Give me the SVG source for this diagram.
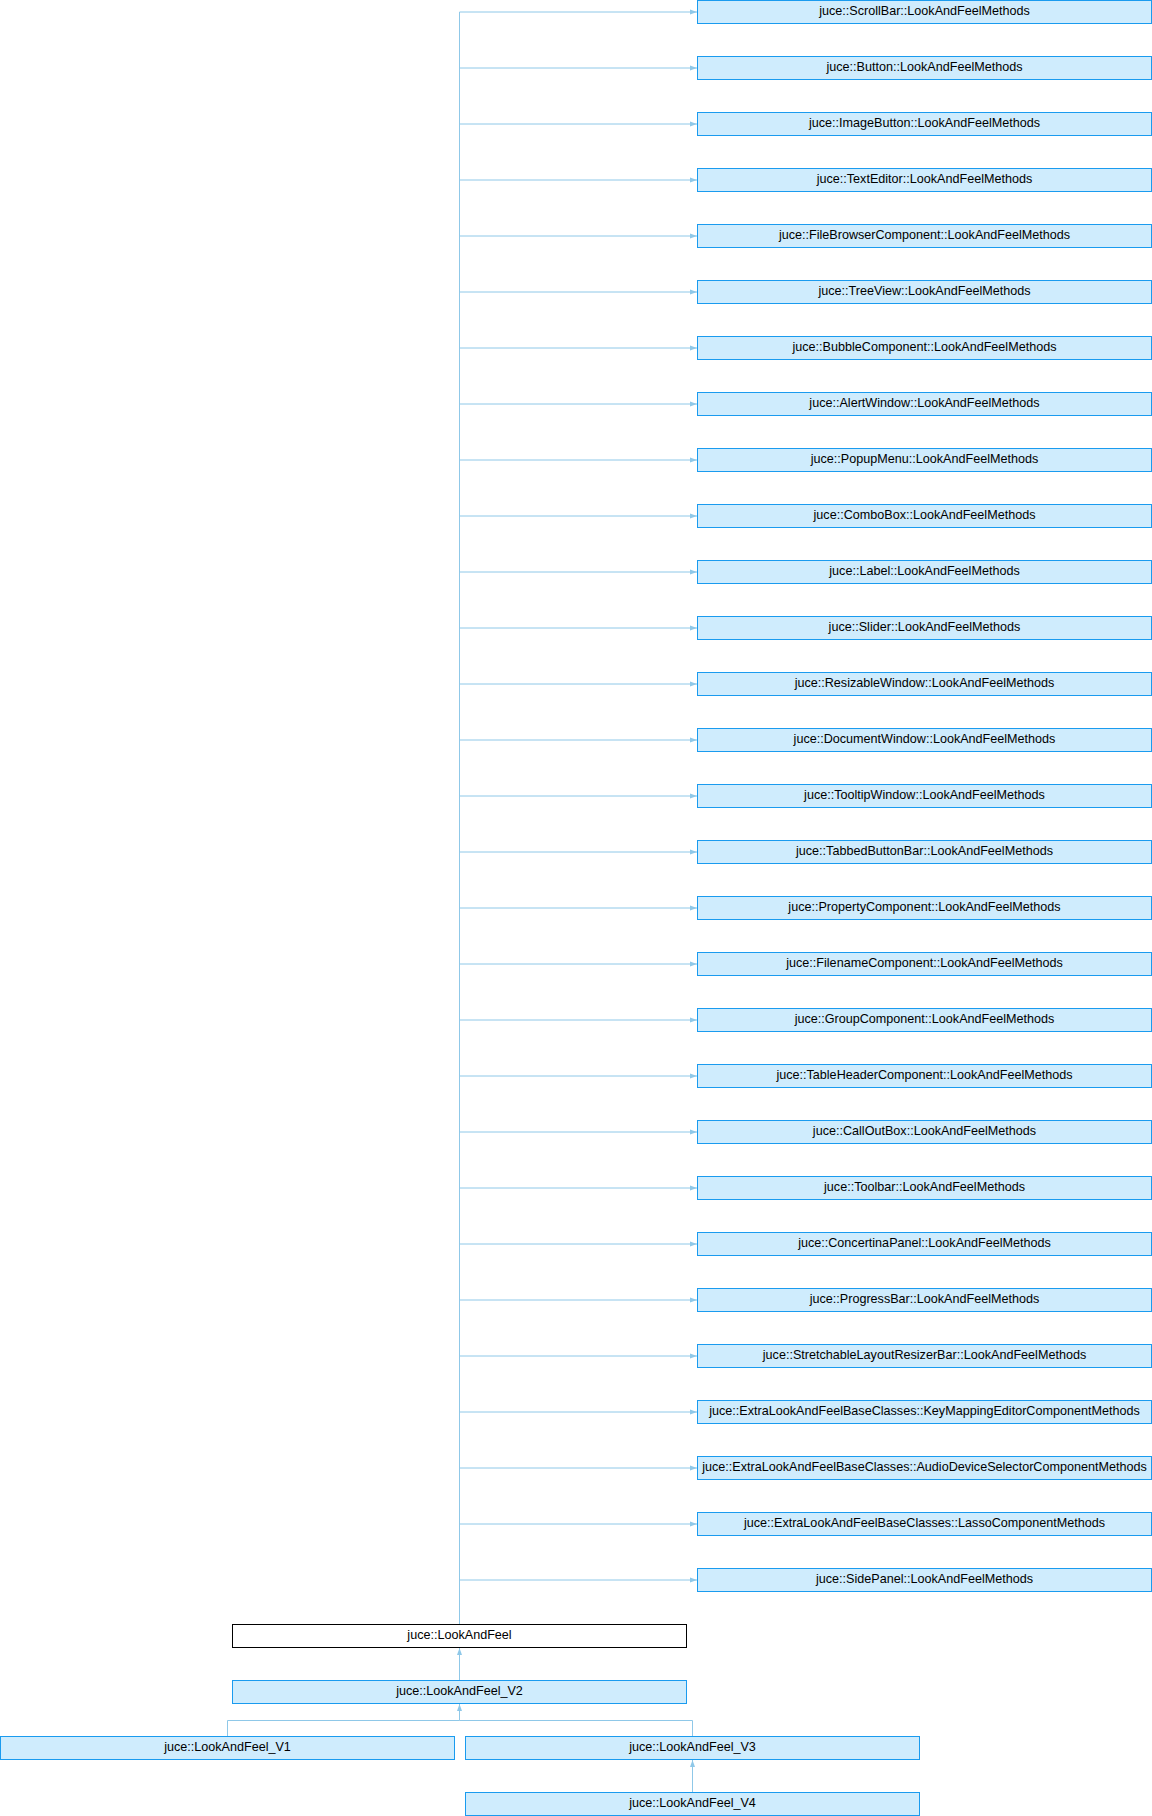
<svg xmlns="http://www.w3.org/2000/svg" width="1152" height="1816" viewBox="0 0 1152 1816">
<style>
.n rect{fill:#cfecfd;stroke:#1a9bef;stroke-width:1}
.n.cur rect{fill:#ffffff;stroke:#000000}
.n text{font-family:"Liberation Sans",Arial,sans-serif;font-size:12.6px;fill:#000;text-anchor:middle}
.e path{fill:none;stroke:#8fc8e8;stroke-width:1;marker-end:url(#ah)}
.e path.t{marker-end:none}
</style>
<defs>
<marker id="ah" markerUnits="userSpaceOnUse" markerWidth="8" markerHeight="8" refX="7" refY="4" orient="auto">
<path d="M0,1.5 L7,4 L0,6.5 Z" fill="#8fc8e8" stroke="none"/>
</marker>
</defs>
<g class="e" id="connectors">
<path class="t" d="M459.5,1624 V12"/>
<path d="M459.5,12 H697"/>
<path d="M459.5,68 H697"/>
<path d="M459.5,124 H697"/>
<path d="M459.5,180 H697"/>
<path d="M459.5,236 H697"/>
<path d="M459.5,292 H697"/>
<path d="M459.5,348 H697"/>
<path d="M459.5,404 H697"/>
<path d="M459.5,460 H697"/>
<path d="M459.5,516 H697"/>
<path d="M459.5,572 H697"/>
<path d="M459.5,628 H697"/>
<path d="M459.5,684 H697"/>
<path d="M459.5,740 H697"/>
<path d="M459.5,796 H697"/>
<path d="M459.5,852 H697"/>
<path d="M459.5,908 H697"/>
<path d="M459.5,964 H697"/>
<path d="M459.5,1020 H697"/>
<path d="M459.5,1076 H697"/>
<path d="M459.5,1132 H697"/>
<path d="M459.5,1188 H697"/>
<path d="M459.5,1244 H697"/>
<path d="M459.5,1300 H697"/>
<path d="M459.5,1356 H697"/>
<path d="M459.5,1412 H697"/>
<path d="M459.5,1468 H697"/>
<path d="M459.5,1524 H697"/>
<path d="M459.5,1580 H697"/>
<path d="M459.5,1680.5 V1648"/>
<path class="t" d="M227.5,1736.5 V1720.5 H459.5"/>
<path d="M692.5,1736.5 V1720.5 H459.5 V1704"/>
<path d="M692.5,1792.5 V1760"/>
</g>
<g class="n" id="n0"><rect x="697.5" y="0.5" width="454" height="23"/><text x="924.5" y="15">juce::ScrollBar::LookAndFeelMethods</text></g>
<g class="n" id="n1"><rect x="697.5" y="56.5" width="454" height="23"/><text x="924.5" y="71">juce::Button::LookAndFeelMethods</text></g>
<g class="n" id="n2"><rect x="697.5" y="112.5" width="454" height="23"/><text x="924.5" y="127">juce::ImageButton::LookAndFeelMethods</text></g>
<g class="n" id="n3"><rect x="697.5" y="168.5" width="454" height="23"/><text x="924.5" y="183">juce::TextEditor::LookAndFeelMethods</text></g>
<g class="n" id="n4"><rect x="697.5" y="224.5" width="454" height="23"/><text x="924.5" y="239">juce::FileBrowserComponent::LookAndFeelMethods</text></g>
<g class="n" id="n5"><rect x="697.5" y="280.5" width="454" height="23"/><text x="924.5" y="295">juce::TreeView::LookAndFeelMethods</text></g>
<g class="n" id="n6"><rect x="697.5" y="336.5" width="454" height="23"/><text x="924.5" y="351">juce::BubbleComponent::LookAndFeelMethods</text></g>
<g class="n" id="n7"><rect x="697.5" y="392.5" width="454" height="23"/><text x="924.5" y="407">juce::AlertWindow::LookAndFeelMethods</text></g>
<g class="n" id="n8"><rect x="697.5" y="448.5" width="454" height="23"/><text x="924.5" y="463">juce::PopupMenu::LookAndFeelMethods</text></g>
<g class="n" id="n9"><rect x="697.5" y="504.5" width="454" height="23"/><text x="924.5" y="519">juce::ComboBox::LookAndFeelMethods</text></g>
<g class="n" id="n10"><rect x="697.5" y="560.5" width="454" height="23"/><text x="924.5" y="575">juce::Label::LookAndFeelMethods</text></g>
<g class="n" id="n11"><rect x="697.5" y="616.5" width="454" height="23"/><text x="924.5" y="631">juce::Slider::LookAndFeelMethods</text></g>
<g class="n" id="n12"><rect x="697.5" y="672.5" width="454" height="23"/><text x="924.5" y="687">juce::ResizableWindow::LookAndFeelMethods</text></g>
<g class="n" id="n13"><rect x="697.5" y="728.5" width="454" height="23"/><text x="924.5" y="743">juce::DocumentWindow::LookAndFeelMethods</text></g>
<g class="n" id="n14"><rect x="697.5" y="784.5" width="454" height="23"/><text x="924.5" y="799">juce::TooltipWindow::LookAndFeelMethods</text></g>
<g class="n" id="n15"><rect x="697.5" y="840.5" width="454" height="23"/><text x="924.5" y="855">juce::TabbedButtonBar::LookAndFeelMethods</text></g>
<g class="n" id="n16"><rect x="697.5" y="896.5" width="454" height="23"/><text x="924.5" y="911">juce::PropertyComponent::LookAndFeelMethods</text></g>
<g class="n" id="n17"><rect x="697.5" y="952.5" width="454" height="23"/><text x="924.5" y="967">juce::FilenameComponent::LookAndFeelMethods</text></g>
<g class="n" id="n18"><rect x="697.5" y="1008.5" width="454" height="23"/><text x="924.5" y="1023">juce::GroupComponent::LookAndFeelMethods</text></g>
<g class="n" id="n19"><rect x="697.5" y="1064.5" width="454" height="23"/><text x="924.5" y="1079">juce::TableHeaderComponent::LookAndFeelMethods</text></g>
<g class="n" id="n20"><rect x="697.5" y="1120.5" width="454" height="23"/><text x="924.5" y="1135">juce::CallOutBox::LookAndFeelMethods</text></g>
<g class="n" id="n21"><rect x="697.5" y="1176.5" width="454" height="23"/><text x="924.5" y="1191">juce::Toolbar::LookAndFeelMethods</text></g>
<g class="n" id="n22"><rect x="697.5" y="1232.5" width="454" height="23"/><text x="924.5" y="1247">juce::ConcertinaPanel::LookAndFeelMethods</text></g>
<g class="n" id="n23"><rect x="697.5" y="1288.5" width="454" height="23"/><text x="924.5" y="1303">juce::ProgressBar::LookAndFeelMethods</text></g>
<g class="n" id="n24"><rect x="697.5" y="1344.5" width="454" height="23"/><text x="924.5" y="1359">juce::StretchableLayoutResizerBar::LookAndFeelMethods</text></g>
<g class="n" id="n25"><rect x="697.5" y="1400.5" width="454" height="23"/><text x="924.5" y="1415">juce::ExtraLookAndFeelBaseClasses::KeyMappingEditorComponentMethods</text></g>
<g class="n" id="n26"><rect x="697.5" y="1456.5" width="454" height="23"/><text x="924.5" y="1471">juce::ExtraLookAndFeelBaseClasses::AudioDeviceSelectorComponentMethods</text></g>
<g class="n" id="n27"><rect x="697.5" y="1512.5" width="454" height="23"/><text x="924.5" y="1527">juce::ExtraLookAndFeelBaseClasses::LassoComponentMethods</text></g>
<g class="n" id="n28"><rect x="697.5" y="1568.5" width="454" height="23"/><text x="924.5" y="1583">juce::SidePanel::LookAndFeelMethods</text></g>
<g class="n cur" id="lookandfeel"><rect x="232.5" y="1624.5" width="454" height="23"/><text x="459.5" y="1639">juce::LookAndFeel</text></g>
<g class="n" id="v2"><rect x="232.5" y="1680.5" width="454" height="23"/><text x="459.5" y="1695">juce::LookAndFeel_V2</text></g>
<g class="n" id="v1"><rect x="0.5" y="1736.5" width="454" height="23"/><text x="227.5" y="1751">juce::LookAndFeel_V1</text></g>
<g class="n" id="v3"><rect x="465.5" y="1736.5" width="454" height="23"/><text x="692.5" y="1751">juce::LookAndFeel_V3</text></g>
<g class="n" id="v4"><rect x="465.5" y="1792.5" width="454" height="23"/><text x="692.5" y="1807">juce::LookAndFeel_V4</text></g>
</svg>
